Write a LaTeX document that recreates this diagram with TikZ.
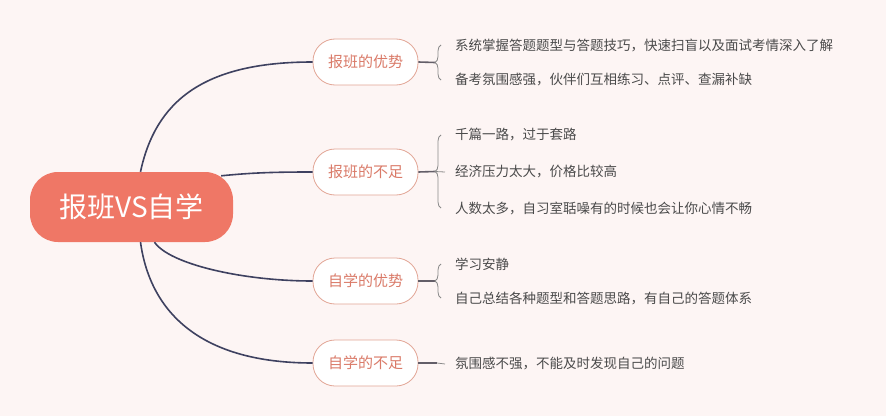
\documentclass[tikz,border=0pt]{standalone}
\usepackage{fontspec}
\setmainfont{Noto Sans CJK SC}
\usetikzlibrary{positioning,decorations.pathreplacing}
\definecolor{pagebg}{HTML}{FDF5F4}
\definecolor{rootfill}{HTML}{EF7766}
\definecolor{branchline}{HTML}{E2A595}
\definecolor{branchtext}{HTML}{DA7A68}
\definecolor{leaftext}{HTML}{4A4A4A}
\definecolor{linkcol}{HTML}{3E4160}
\definecolor{stubcol}{HTML}{635E68}
\definecolor{bracecol}{HTML}{8A8A8A}

\begin{document}
\begin{tikzpicture}[
  x=1pt, y=1pt,
  root/.style={fill=rootfill,rounded corners=28pt,minimum width=203pt,
    minimum height=70pt,text=white,font=\fontsize{28}{30}\selectfont},
  branch/.style={draw=branchline,fill=white,line width=0.8pt,
    rounded corners=22pt,minimum width=105pt,minimum height=46pt,
    text=branchtext,font=\fontsize{15}{17}\selectfont},
  leaf/.style={anchor=west,inner sep=0pt,text=leaftext,
    font=\fontsize{13.5}{15}\selectfont},
  link/.style={draw=linkcol,line width=1.6pt},
  stub/.style={draw=stubcol,line width=1.6pt},
  twig/.style={draw=bracecol,line width=0.8pt},
  brace/.style={draw=bracecol,line width=0.8pt,decorate,
    decoration={brace,amplitude=6pt}}
]
\fill[pagebg] (0,0) rectangle (886,416);
\useasboundingbox (0,0) rectangle (886,416);

\node[root] (root) at (131.5,209) {报班VS自学};
\node[branch] (b1) at (365.5,354) {报班的优势};
\node[branch] (b2) at (365.5,244) {报班的不足};
\node[branch] (b3) at (365.5,135) {自学的优势};
\node[branch] (b4) at (365.5,53) {自学的不足};

\node[leaf] (l11) at (455,371) {系统掌握答题题型与答题技巧，快速扫盲以及面试考情深入了解};
\node[leaf] (l12) at (455,336) {备考氛围感强，伙伴们互相练习、点评、查漏补缺};
\node[leaf] (l21) at (455,281) {千篇一路，过于套路};
\node[leaf] (l22) at (455,244) {经济压力太大，价格比较高};
\node[leaf] (l23) at (455,208) {人数太多，自习室聒噪有的时候也会让你心情不畅};
\node[leaf] (l31) at (455,152) {学习安静};
\node[leaf] (l32) at (455,118) {自己总结各种题型和答题思路，有自己的答题体系};
\node[leaf] (l41) at (455,52) {氛围感不强，不能及时发现自己的问题};

\coordinate (t1) at (435,353.5);
\coordinate (t2) at (435,244.5);
\coordinate (t3) at (435,135);
\coordinate (t4) at (437,53);

\draw[link] ([xshift=9pt]root.north) .. controls +(15pt,70pt) and +(-110pt,0pt) .. (b1.west);
\draw[link] ([xshift=-12pt,yshift=-4pt]root.north east) .. controls +(30pt,3pt) and +(-40pt,0pt) .. (b2.west);
\draw[link] ([xshift=23pt]root.south) .. controls +(15pt,-22pt) and +(-70pt,0pt) .. (b3.west);
\draw[link] ([xshift=9pt]root.south) .. controls +(10pt,-72pt) and +(-110pt,0pt) .. (b4.west);

\draw[stub] (b1.east) -- (t1);
\draw[stub] (b2.east) -- (t2);
\draw[stub] (b3.east) -- (t3);
\draw[stub] (b4.east) -- (t4);

\draw[brace] ([xshift=-14pt]l12.west) -- ([xshift=-14pt]l11.west);
\draw[brace] ([xshift=-14pt]l23.west) -- ([xshift=-14pt]l21.west);
\draw[brace] ([xshift=-14pt]l32.west) -- ([xshift=-14pt]l31.west);
\draw[twig] (t2) -- ([xshift=-10pt]l22.west);
\draw[twig] (t4) -- ([xshift=-10pt]l41.west);
\end{tikzpicture}
\end{document}
